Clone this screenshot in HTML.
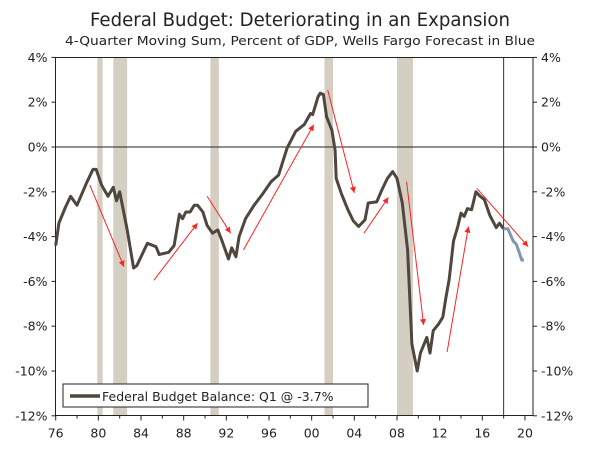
<!DOCTYPE html>
<html><head><meta charset="utf-8"><style>
html,body{margin:0;padding:0;background:#fff;}
svg{display:block;font-family:"DejaVu Sans","Liberation Sans",sans-serif;}
</style></head><body>
<svg id="chart" width="600" height="450" viewBox="0 0 600 450" xmlns="http://www.w3.org/2000/svg">
<text x="300" y="26" text-anchor="middle" font-size="19" fill="#222" textLength="420" lengthAdjust="spacingAndGlyphs">Federal Budget: Deteriorating in an Expansion</text>
<text x="300" y="45" text-anchor="middle" font-size="12.5" fill="#222" textLength="470" lengthAdjust="spacingAndGlyphs">4-Quarter Moving Sum, Percent of GDP, Wells Fargo Forecast in Blue</text>
<g id="rec"></g>
<g id="grid"></g>
<g id="arrows"></g>
<g id="series"></g>
<g>
<rect x="63" y="384" width="305" height="23" fill="#fff" stroke="#222" stroke-width="1"/>
<line x1="70" y1="396" x2="100" y2="396" stroke="#4f473e" stroke-width="3.5"/>
<text x="102" y="401" font-size="12.5" fill="#222">Federal Budget Balance: Q1 @ -3.7%</text>
</g>
</svg>
<script>
const years=[1976.0,1976.3,1976.9,1977.4,1978.0,1978.9,1979.5,1979.8,1980.3,1980.9,1981.4,1981.7,1982.0,1982.7,1983.3,1983.6,1984.6,1985.4,1985.7,1986.6,1987.1,1987.6,1987.9,1988.2,1988.6,1989.0,1989.3,1989.8,1990.2,1990.7,1991.2,1991.6,1992.2,1992.5,1992.9,1993.2,1993.8,1994.6,1995.4,1996.2,1996.9,1997.7,1998.5,1999.3,1999.9,2000.1,2000.6,2000.8,2001.1,2001.4,2001.9,2002.2,2002.3,2002.8,2003.4,2003.9,2004.4,2005.0,2005.3,2006.1,2006.6,2007.1,2007.6,2008.0,2008.5,2009.0,2009.4,2009.9,2010.2,2010.8,2011.1,2011.4,2011.9,2012.3,2012.6,2012.9,2013.3,2013.7,2014.0,2014.3,2014.6,2015.0,2015.4,2015.8,2016.2,2016.7,2017.3,2017.6,2018.0];
const balance=[-4.4,-3.4,-2.7,-2.2,-2.6,-1.6,-1.0,-1.0,-1.7,-2.2,-1.8,-2.4,-2.0,-3.7,-5.4,-5.3,-4.3,-4.45,-4.8,-4.7,-4.4,-3.0,-3.2,-2.9,-2.9,-2.6,-2.6,-2.9,-3.5,-3.85,-3.7,-4.2,-5.0,-4.5,-4.9,-4.0,-3.2,-2.6,-2.1,-1.55,-1.25,-0.05,0.7,1.0,1.5,1.45,2.25,2.4,2.35,1.35,0.75,-0.15,-1.4,-2.1,-2.8,-3.3,-3.55,-3.25,-2.5,-2.45,-1.9,-1.4,-1.1,-1.4,-2.5,-4.6,-8.8,-10.0,-9.2,-8.5,-9.2,-8.2,-7.9,-7.6,-6.7,-5.9,-4.2,-3.55,-2.95,-3.1,-2.75,-2.8,-2.0,-2.2,-2.35,-3.05,-3.6,-3.4,-3.65];
const fcYears=[2018.0,2018.4,2018.9,2019.2,2019.7,2019.9];
const fcBalance=[-3.65,-3.65,-4.2,-4.35,-5.05,-5.05];
const recessions=[[1979.9,1980.4],[1981.4,1982.7],[1990.5,1991.3],[2001.2,2002.0],[2008.0,2009.5]];
const arrowStarts=[[1979.2,-1.7],[1985.2,-5.95],[1990.2,-2.2],[1993.6,-4.6],[2001.5,2.55],[2004.9,-3.85],[2008.9,-1.55],[2012.7,-9.15],[2015.5,-1.85]];
const arrowEnds=[[1982.4,-5.35],[1989.3,-3.4],[1992.4,-3.85],[2000.2,1.0],[2004.0,-2.05],[2007.2,-2.25],[2010.5,-7.95],[2014.7,-3.55],[2020.3,-4.45]];
const yTicks=[4,2,0,-2,-4,-6,-8,-10,-12];
const xTicks=[1976,1980,1984,1988,1992,1996,2000,2004,2008,2012,2016,2020];
const xTickLabels=["76","80","84","88","92","96","00","04","08","12","16","20"];
const forecastStart=2018.0;

const NS="http://www.w3.org/2000/svg";
const X0=55.7,Y1976=1976,PXY=10.665;
const sx=y=>X0+(y-Y1976)*PXY;
const sy=v=>147-v*22.4;
const L=55.5,R=533,T=57.5,B=415.5;
function mk(tag,attrs,parent){const e=document.createElementNS(NS,tag);for(const k in attrs)e.setAttribute(k,attrs[k]);parent.appendChild(e);return e;}
const rec=document.getElementById('rec'),grid=document.getElementById('grid'),arrows=document.getElementById('arrows'),series=document.getElementById('series');
recessions.forEach(r=>{const e=mk('rect',{x:sx(r[0]),y:T,width:sx(r[1])-sx(r[0]),height:B-T,fill:'#d5cfc3'},rec);

});
mk('line',{x1:L,y1:T,x2:R,y2:T,stroke:'#222','stroke-width':1},grid);
mk('line',{x1:L,y1:T,x2:L,y2:B,stroke:'#222','stroke-width':1},grid);
mk('line',{x1:R,y1:T,x2:R,y2:B,stroke:'#222','stroke-width':1},grid);
mk('line',{x1:L,y1:B,x2:R,y2:B,stroke:'#222','stroke-width':1},grid);
const zl=mk('line',{x1:L,y1:sy(0),x2:R,y2:sy(0),stroke:'#222','stroke-width':1},grid);


const fl=mk('line',{x1:sx(forecastStart),y1:T,x2:sx(forecastStart),y2:B,stroke:'#333','stroke-width':1},grid);


yTicks.forEach(v=>{const y=sy(v);
mk('line',{x1:L-4,y1:y,x2:L,y2:y,stroke:'#222'},grid);
mk('line',{x1:R,y1:y,x2:R+4,y2:y,stroke:'#222'},grid);
const lab=(v+'%');
const t1=mk('text',{x:L-8,y:y+4.5,'text-anchor':'end','font-size':12.5,fill:'#222'},grid);t1.textContent=lab;


const t2=mk('text',{x:R+8,y:y+4.5,'text-anchor':'start','font-size':12.5,fill:'#222'},grid);t2.textContent=lab;

});
xTicks.forEach((yr,i)=>{const x=sx(yr);
mk('line',{x1:x,y1:B,x2:x,y2:B+5,stroke:'#222'},grid);
const t=mk('text',{x:x,y:B+22,'text-anchor':'middle','font-size':12.5,fill:'#222'},grid);t.textContent=xTickLabels[i];

});
for(let yr=1976;yr<=2020;yr+=2){if(yr%4)mk('line',{x1:sx(yr),y1:B,x2:sx(yr),y2:B+3,stroke:'#222'},grid);}
arrowStarts.forEach((s,i)=>{const e=arrowEnds[i];const x1=sx(s[0]),y1=sy(s[1]),x2=sx(e[0]),y2=sy(e[1]);
const ln=mk('line',{x1:x1,y1:y1,x2:x2,y2:y2,stroke:'#f22','stroke-width':1},arrows);


const a=Math.atan2(y2-y1,x2-x1),h=6,w=3;
const p=[[x2,y2],[x2-h*Math.cos(a)+w*Math.sin(a),y2-h*Math.sin(a)-w*Math.cos(a)],[x2-h*Math.cos(a)-w*Math.sin(a),y2-h*Math.sin(a)+w*Math.cos(a)]];
mk('polygon',{points:p.map(q=>q.join(',')).join(' '),fill:'#f22'},arrows);});
const hp=mk('path',{d:years.map((y,i)=>(i?'L':'M')+sx(y).toFixed(1)+','+sy(balance[i]).toFixed(1)).join(''),fill:'none',stroke:'#4f473e','stroke-width':3,'stroke-linejoin':'round'},series);


const fp=mk('path',{d:fcYears.map((y,i)=>(i?'L':'M')+sx(y).toFixed(1)+','+sy(fcBalance[i]).toFixed(1)).join(''),fill:'none',stroke:'#7d98ad','stroke-width':3,'stroke-linejoin':'round'},series);


</script>
</body></html>
